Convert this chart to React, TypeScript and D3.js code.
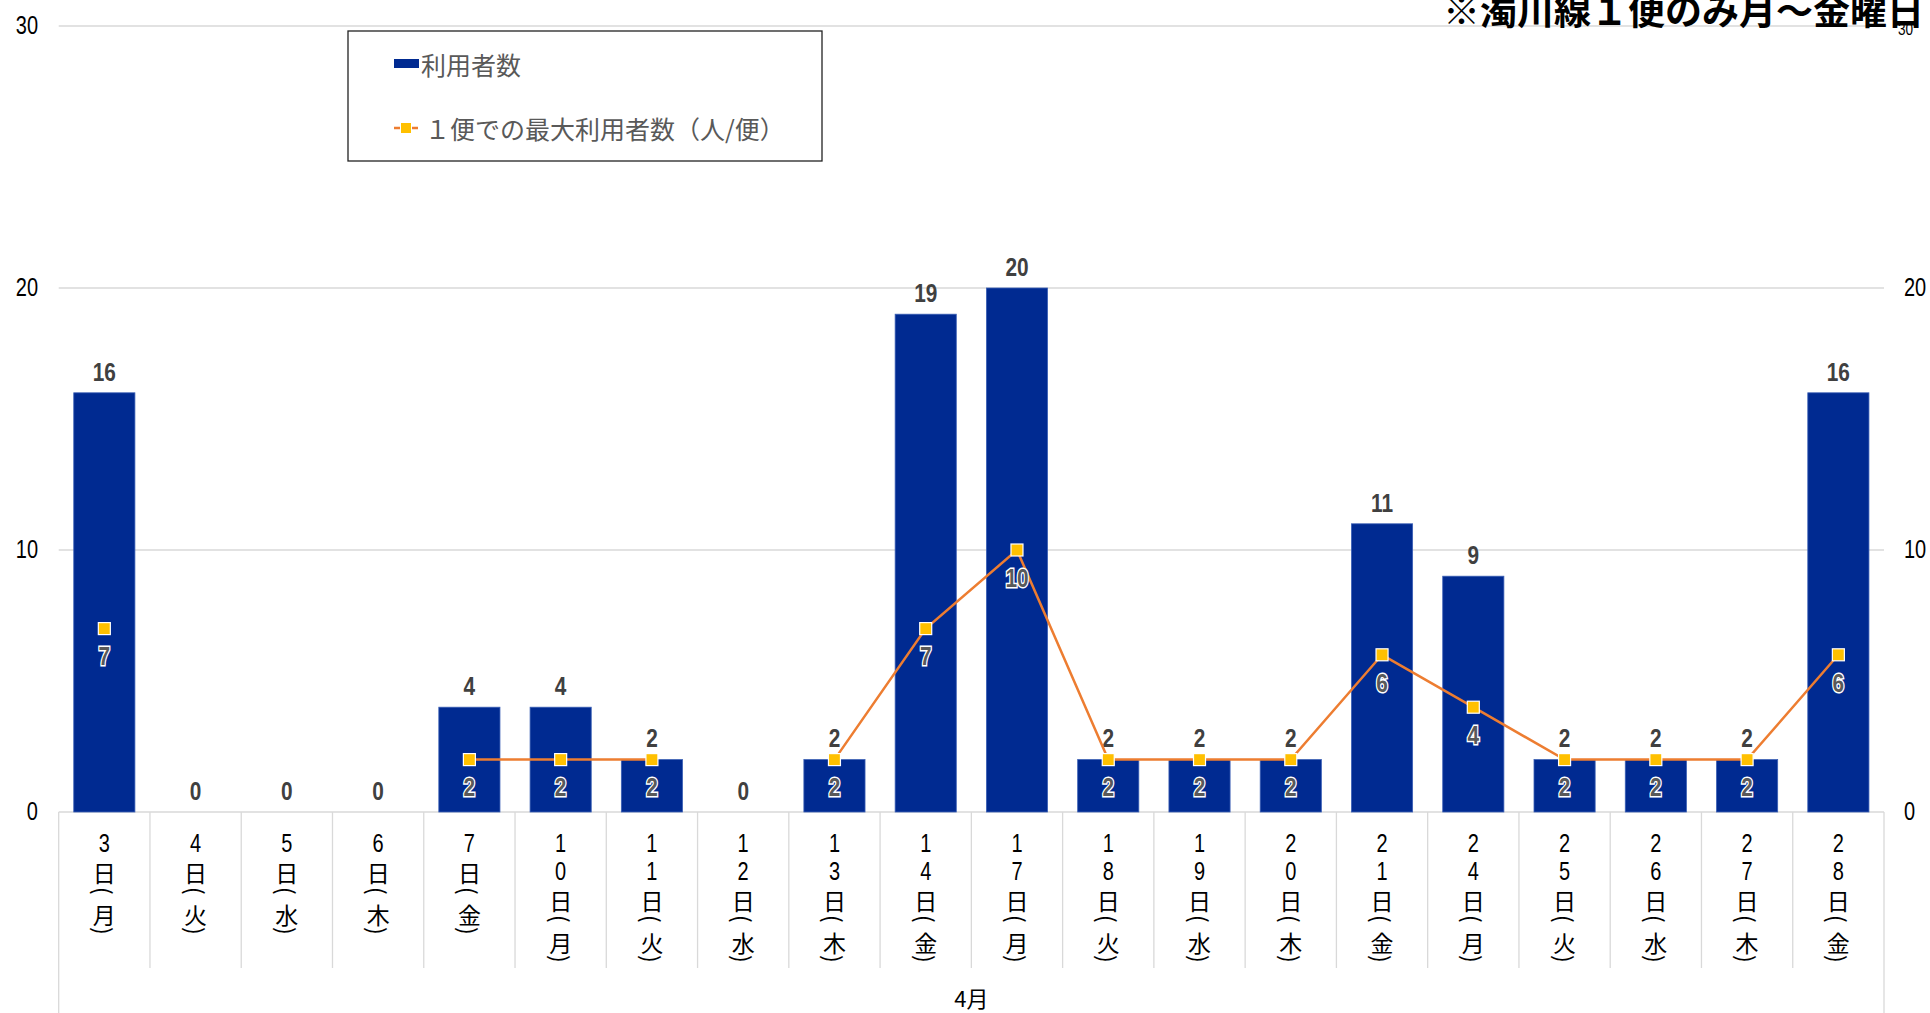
import React from "react";
import * as d3 from "d3";

const days = ["3", "4", "5", "6", "7", "10", "11", "12", "13", "14", "17", "18", "19", "20", "21", "24", "25", "26", "27", "28"];
const weekdays = ["月", "火", "水", "木", "金", "月", "火", "水", "木", "金", "月", "火", "水", "木", "金", "月", "火", "水", "木", "金"];
const users = [16, 0, 0, 0, 4, 4, 2, 0, 2, 19, 20, 2, 2, 2, 11, 9, 2, 2, 2, 16];
const maxPerTrip: (number | null)[] = [7, null, null, null, 2, 2, 2, null, 2, 7, 10, 2, 2, 2, 6, 4, 2, 2, 2, 6];
const yTicks = [0, 10, 20, 30];
const monthLabel = "4月";
const title = "※濁川線１便のみ月～金曜日";
const seriesNames = ["利用者数", "１便での最大利用者数（人/便）"];

const W = 1930;
const H = 1013;
const left = 58.7;
const right = 1884;
const top = 26;
const bottom = 812;

const NUM_FONT = "'Liberation Sans', Arial, sans-serif";
const JP_FONT = "'Noto Sans CJK JP', sans-serif";
const SX = 0.8;

type NumProps = {
  x: number;
  y: number;
  anchor?: "start" | "middle" | "end";
  size?: number;
  bold?: boolean;
  fill?: string;
  halo?: boolean;
  baseline?: string;
  children: React.ReactNode;
};

function Num({ x, y, anchor = "middle", size = 25, bold = false, fill = "#000", halo = false, baseline = "central", children }: NumProps) {
  return (
    <text
      transform={`translate(${x},${y}) scale(${SX},1)`}
      x={0}
      y={0}
      textAnchor={anchor}
      dominantBaseline={baseline}
      fontFamily={NUM_FONT}
      fontWeight={bold ? "bold" : "normal"}
      fontSize={size}
      fill={fill}
      stroke={halo ? "#ffffff" : undefined}
      strokeWidth={halo ? 3 : undefined}
      style={halo ? { paintOrder: "stroke" } : undefined}
    >
      {children}
    </text>
  );
}

export default function App() {
  const idx = days.map((_, i) => i);
  const x = d3.scaleBand<number>().domain(idx).range([left, right]).paddingInner(0.33).paddingOuter(0.165);
  const y = d3.scaleLinear().domain([0, 30]).range([bottom, top]);
  const cx = (i: number) => (x(i) as number) + x.bandwidth() / 2;
  const step = x.step();
  const bandStart = (i: number) => left + i * step;

  const line = d3
    .line<number | null>()
    .defined((d) => d != null)
    .x((_, i) => cx(i))
    .y((d) => y(d as number));

  const catLabel = (i: number) => {
    const xc = cx(i);
    const digits = days[i].split("");
    const items: React.ReactNode[] = [];
    let yy = 844;
    digits.forEach((dg, k) => {
      items.push(
        <Num key={"d" + k} x={xc} y={yy} size={25}>
          {dg}
        </Num>
      );
      yy += 28;
    });
    const riY = yy;
    items.push(
      <text key="ri" x={xc} y={riY} textAnchor="middle" dominantBaseline="central" fontFamily={JP_FONT} fontSize={23} fill="#000">
        日
      </text>
    );
    const p1 = riY + 19;
    items.push(
      <text key="p1" x={xc} y={p1} textAnchor="middle" dominantBaseline="central" fontFamily={JP_FONT} fontSize={23} fill="#000" transform={`rotate(90, ${xc}, ${p1})`}>
        (
      </text>
    );
    const wy = riY + 42;
    items.push(
      <text key="w" x={xc} y={wy} textAnchor="middle" dominantBaseline="central" fontFamily={JP_FONT} fontSize={23} fill="#000">
        {weekdays[i]}
      </text>
    );
    const p2 = riY + 59;
    items.push(
      <text key="p2" x={xc} y={p2} textAnchor="middle" dominantBaseline="central" fontFamily={JP_FONT} fontSize={23} fill="#000" transform={`rotate(90, ${xc}, ${p2})`}>
        )
      </text>
    );
    return <g key={"c" + i}>{items}</g>;
  };

  return (
    <svg width={W} height={H} style={{ position: "absolute", left: 0, top: 0, background: "#fff" }}>
      {/* gridlines */}
      {yTicks.map((t) => (
        <line key={"g" + t} x1={left} x2={right} y1={y(t)} y2={y(t)} stroke="#d9d9d9" strokeWidth={1.3} />
      ))}
      {/* category separators */}
      {d3.range(days.length + 1).map((k) => (
        <line
          key={"s" + k}
          x1={bandStart(k)}
          x2={bandStart(k)}
          y1={bottom}
          y2={k === 0 || k === days.length ? H : 968}
          stroke="#d9d9d9"
          strokeWidth={1.3}
        />
      ))}
      {/* y labels left */}
      {yTicks.map((t) => (
        <Num key={"yl" + t} x={38} y={y(t)} anchor="end" size={25}>
          {t}
        </Num>
      ))}
      {/* y labels right */}
      {yTicks.map((t) => (
        <Num key={"yr" + t} x={t === 30 ? 1898 : 1904} y={y(t) + (t === 30 ? 3 : 0)} anchor="start" size={t === 30 ? 17 : 25}>
          {t}
        </Num>
      ))}
      {/* bars */}
      {users.map((v, i) => (
        <rect key={"b" + i} x={x(i)} y={y(v)} width={x.bandwidth()} height={bottom - y(v)} fill="#002A91" stroke="#3a5fb5" strokeWidth={0.8} />
      ))}
      {/* bar labels */}
      {users.map((v, i) => (
        <Num key={"bl" + i} x={cx(i)} y={y(v) - 21} size={26} bold fill="#404040">
          {v}
        </Num>
      ))}
      {/* line */}
      <path d={line(maxPerTrip) || ""} fill="none" stroke="#ED7D31" strokeWidth={2.5} />
      {maxPerTrip.map((v, i) =>
        v == null ? null : (
          <rect key={"m" + i} x={cx(i) - 6} y={y(v) - 6} width={12} height={12} fill="#FFC000" stroke="#fff" strokeWidth={1.2} />
        )
      )}
      {maxPerTrip.map((v, i) =>
        v == null ? null : (
          <Num key={"ml" + i} x={cx(i)} y={y(v) + 28} size={26} bold fill="#595959" halo>
            {v}
          </Num>
        )
      )}
      {/* category labels */}
      {idx.map((i) => catLabel(i))}
      <text x={(left + right) / 2} y={997} textAnchor="middle" dominantBaseline="central" fontFamily={JP_FONT} fontSize={22} fill="#000">
        {monthLabel}
      </text>
      {/* legend */}
      <rect x={348} y={31} width={474} height={130} fill="#fff" stroke="#222" strokeWidth={1.3} />
      <rect x={394} y={59} width={25} height={9} fill="#002A91" />
      <text x={421} y={64} dominantBaseline="central" fontFamily={JP_FONT} fontSize={25} fill="#595959">
        {seriesNames[0]}
      </text>
      <line x1={394} x2={419} y1={128} y2={128} stroke="#ED7D31" strokeWidth={2.5} strokeDasharray="6,3" />
      <rect x={401} y={123} width={10} height={10} fill="#FFC000" />
      <text x={425} y={128} dominantBaseline="central" fontFamily={JP_FONT} fontSize={25} fill="#595959">
        {seriesNames[1]}
      </text>
      {/* title */}
      <text x={1443} y={25} fontFamily={JP_FONT} fontWeight="bold" fontSize={37} fill="#000">
        {title}
      </text>
    </svg>
  );
}
